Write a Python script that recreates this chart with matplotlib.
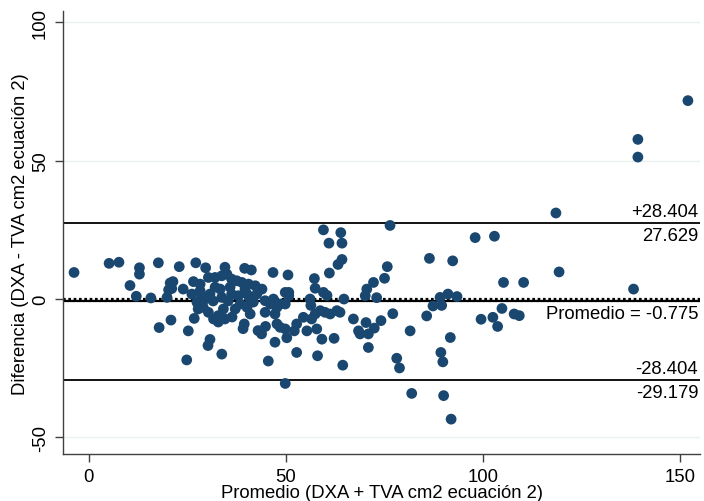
import matplotlib
matplotlib.use("Agg")
import matplotlib.pyplot as plt
import numpy as np

plt.rcParams['font.family'] = ['Liberation Sans', 'DejaVu Sans']

# Mean of the two methods (x) and difference (y)
promedio = [
    -3.7, 5.2, 7.7, 12.9, 12.9, 10.5, 12.1, 15.8, 17.7, 20.7, 21.4, 20.3, 19.9, 21.1, 17.9, 20.9,
    23.0, 27.2, 29.7, 34.6, 39.6, 41.3, 46.8, 50.6, 26.6, 30.4, 32.1, 33.8, 35.1, 36.3, 37.6, 38.9,
    40.6, 42.3, 44.0, 26.2, 28.3, 28.7, 30.8, 33.4, 33.8, 36.3, 38.0, 40.2, 42.7, 44.8, 46.9, 48.6,
    49.9, 27.5, 29.1, 30.4, 31.7, 32.9, 34.2, 34.6, 38.5, 40.2, 41.0, 44.8, 47.3, 47.8, 48.6, 49.9,
    26.8, 25.3, 39.5, 39.2, 43.0, 44.9, 43.9, 30.8, 30.3, 33.8, 24.9, 47.3, 50.3, 45.6, 47.8, 49.9,
    50.8, 50.8, 52.8, 52.2, 54.5, 55.4, 56.6, 57.5, 57.9, 59.2, 58.8, 60.0, 61.3, 63.0, 63.8, 62.3,
    52.8, 58.1, 64.5, 49.9, 56.2, 56.4, 57.3, 57.5, 59.6, 60.5, 61.1, 59.6, 61.0, 64.0, 64.3, 64.3,
    63.3, 64.8, 67.2, 68.5, 68.9, 70.4, 71.0, 72.5, 71.0, 74.2, 77.2, 70.2, 70.6, 72.3, 73.1, 75.1,
    75.8, 76.5, 78.2, 78.9, 81.6, 82.0, 90.1, 85.8, 87.4, 89.6, 89.2, 91.2, 93.5, 86.5, 92.4, 89.4,
    89.9, 91.8, 98.1, 152.1, 139.4, 139.4, 118.6, 103.0, 119.4, 105.3, 110.4, 138.3, 104.9, 99.6,
    102.6, 103.8, 108.0, 109.3, 92.0,
    35.4, 41.0, 31.6, 37.2, 29.6, 41.8, 46.1, 28.3, 32.1, 35.9, 32.9, 36.4, 27.8, 24.0, 39.7,
]
diferencia = [
    9.6, 12.9, 13.3, 11.3, 9.0, 4.9, 1.0, 0.4, 13.1, 5.8, 6.3, 3.3, 0.6, 3.8, -10.3, -7.6,
    11.7, 13.1, 11.3, 11.5, 11.1, 10.5, 9.6, 8.7, 6.3, 7.8, 7.8, 8.4, 9.0, 7.2, 6.6, 6.0,
    5.4, 4.8, 3.6, 1.8, 3.0, 1.2, 1.8, 3.6, 0.6, 1.8, 1.2, 1.8, 1.8, -0.6, 0.0, -1.8,
    2.4, -1.2, -3.0, -4.8, -7.2, -6.0, -3.6, -7.2, -1.8, -3.0, -5.4, -4.8, -5.4, -9.0, -10.2, -10.8,
    -7.0, -11.5, -9.0, -10.7, -11.4, -9.9, -12.6, -14.6, -16.8, -19.9, -22.0, -15.6, -14.0, -22.4, -3.0, -1.8,
    2.4, 1.2, -9.0, -11.5, -6.6, -11.5, -7.2, -5.4, -10.8, -14.5, -4.2, -4.8, -5.4, -4.2, -4.8, -14.2,
    -19.3, -20.5, -23.9, -30.5, 0.0, -2.3, 7.4, 3.9, 2.4, 1.3, 9.4, 25.0, 20.2, 24.0, 20.2, 14.3,
    12.5, 0.0, -7.2, -11.5, -12.6, -8.5, -12.6, -10.5, -17.5, -7.8, -5.3, 1.2, 3.6, 6.0, 0.5, 7.5,
    11.7, 26.6, -21.4, -24.9, -11.5, -34.1, -34.9, -6.1, -2.5, -2.3, 0.6, 1.8, 0.9, 14.7, 13.8, -19.3,
    -22.7, -13.9, 22.2, 71.7, 57.7, 51.3, 31.1, 22.7, 9.8, 6.0, 6.0, 3.6, -3.4, -7.3,
    -6.6, -9.9, -5.4, -6.0, -43.4,
    -0.7, 0.0, -0.7, -3.6, 0.0, -1.1, -1.8, 5.4, 4.3, 4.3, -8.3, -6.5, -3.6, 3.6, 3.6,
]

media_dif = -0.775
lim_acuerdo = 28.404
x_ticks = [0, 50, 100, 150]
y_ticks = [-50, 0, 50, 100]

fig = plt.figure(figsize=(7.04, 5.02), dpi=100)
ax = fig.add_axes([0.0895, 0.0936, 0.905, 0.882])

navy = '#1a476f'
grid_c = '#eaf2f3'

for yt in y_ticks:
    ax.axhline(yt, color=grid_c, lw=1.0, zorder=0)

ax.axhline(media_dif + lim_acuerdo, color='black', lw=1.3, zorder=1)
ax.axhline(media_dif - lim_acuerdo, color='black', lw=1.3, zorder=1)
ax.axhline(media_dif, color='black', lw=1.6, zorder=1)
ax.axhline(0, color='black', lw=1.6, ls=(0, (1.2, 1.2)), zorder=1)

ax.scatter(promedio, diferencia, s=60, color=navy, edgecolors='none', zorder=3)

ax.set_xlim(-6.5, 155.2)
ax.set_ylim(-56, 104)
ax.set_xticks(x_ticks)
ax.set_yticks(y_ticks)
ax.set_yticklabels([str(v) for v in y_ticks], rotation=90, va='center')

fs = 13.3
for s in ['top', 'right']:
    ax.spines[s].set_visible(False)
for s in ['left', 'bottom']:
    ax.spines[s].set_color('#404040')
    ax.spines[s].set_linewidth(1.0)
ax.tick_params(axis='both', direction='out', length=6, width=1.0, color='#404040',
               labelsize=fs, labelcolor='black', pad=4)

ax.set_xlabel('Promedio (DXA + TVA cm2 ecuación 2)', fontsize=fs, labelpad=-1)
ax.set_ylabel('Diferencia (DXA - TVA cm2 ecuación 2)', fontsize=fs, labelpad=2)

tr = ax.get_yaxis_transform()
xt = 0.997
up = media_dif + lim_acuerdo
lo = media_dif - lim_acuerdo
ax.annotate('+%.3f' % lim_acuerdo, (xt, up), xycoords=tr, xytext=(0, 2), textcoords='offset points',
            ha='right', va='bottom', fontsize=fs)
ax.annotate('%.3f' % up, (xt, up), xycoords=tr, xytext=(0, -3), textcoords='offset points',
            ha='right', va='top', fontsize=fs)
ax.annotate('Promedio = %.3f' % media_dif, (xt, media_dif), xycoords=tr, xytext=(0, -3),
            textcoords='offset points', ha='right', va='top', fontsize=fs)
ax.annotate('-%.3f' % lim_acuerdo, (xt, lo), xycoords=tr, xytext=(0, 2), textcoords='offset points',
            ha='right', va='bottom', fontsize=fs)
ax.annotate('%.3f' % lo, (xt, lo), xycoords=tr, xytext=(0, -3), textcoords='offset points',
            ha='right', va='top', fontsize=fs)

fig.savefig('out.png', dpi=100)
